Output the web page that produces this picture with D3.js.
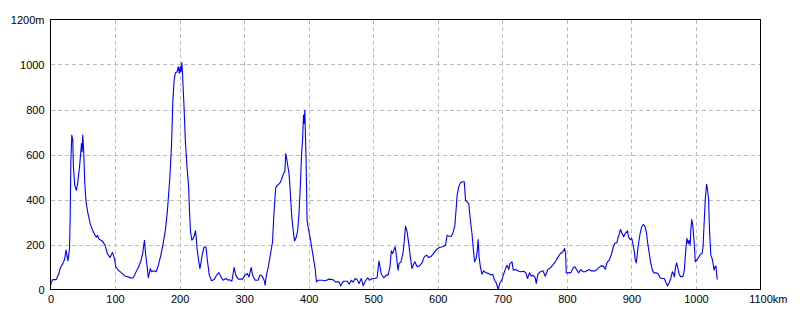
<!DOCTYPE html>
<html>
<head>
<meta charset="utf-8">
<script src="https://cdn.jsdelivr.net/npm/d3@7"></script>
<style>
  body { margin: 0; background: #fff; }
  text { font-family: "Liberation Sans Narrow", "Liberation Sans", Arial, sans-serif; font-size: 11px; fill: #000; }
</style>
</head>
<body>
<div class="box"></div>
<script>
// distance (km) and elevation (m) along the route
const distanceKm = [
  0, 1, 3.6, 9, 13, 15.5, 19, 21.8, 24, 27,
  29.5, 30.5, 31.5, 33, 34.5, 35.5, 37.5, 40, 42, 45,
  48, 49, 50, 51.5, 53, 55, 58, 61.5, 65, 69,
  71, 73, 75, 80, 84.5, 88, 92, 96, 99, 101,
  105, 110, 115.5, 121, 125, 128.5, 132, 136, 140, 143,
  145.5, 147.5, 149.5, 151.5, 154.5, 156.5, 159.5, 163.5, 166.5, 171,
  174.5, 178, 181, 185, 187.5, 189.5, 191.5, 193.5, 196, 198,
  199.5, 201, 202, 203.5, 204.5, 207, 209, 211.5, 214, 215.5,
  217, 219, 221, 223, 224.5, 225.5, 227, 229.5, 231.5, 233,
  235.5, 238, 241, 243, 246, 249.5, 253.5, 257.5, 261, 264,
  267.5, 271.5, 275.5,
  277, 281, 284.5, 287, 291, 297.5, 301.5, 305, 307.5, 311,
  313, 317, 321.5, 324.5, 328, 331, 332.5, 334.5, 337.5, 341,
  344, 345.5, 347, 349, 351.5, 355, 358, 361, 363, 364.5,
  366, 367, 369.5, 371, 372.5, 374, 376, 378, 381, 383,
  385, 387, 389, 390.5, 392, 393, 394, 396, 397.5, 399.5,
  402, 404.5, 407, 410, 412, 414.5, 421, 426, 431, 437.5,
  441.5, 447, 449.5, 452, 454.5, 459.5, 463, 466, 469, 472,
  475, 478, 481.5, 484.5, 488, 491.5, 494, 498.5, 502, 506,
  509, 510.5, 512.5, 516.5, 520, 523, 526, 528, 530, 532,
  534, 535.5, 537.5, 538.5, 540, 543, 546, 548,
  550, 552.5, 555, 557.5, 560, 562, 564.5, 568, 571.5, 575.5,
  579, 582.5, 586, 590, 594, 598, 602.5, 607.5, 612, 614.5,
  617, 621, 624, 626.5, 628.5, 630, 632.5, 635, 638, 641,
  643, 645.5, 648, 650.5, 653, 655, 657, 659.5, 661, 662.5,
  664, 666, 668.5, 671, 675, 679, 682, 685, 688, 690.5,
  693.5, 696, 699.5, 702, 705, 707.5, 710, 712, 715, 717,
  720.5, 725.5, 729, 733, 736.5, 739, 742, 745, 747.5, 751,
  752.5, 755, 759, 763, 766.5, 770.5, 774.5, 778, 782, 786.5,
  790, 793.5, 796.5, 798, 799, 803, 806.5, 809.5, 812.5, 815.5,
  818.5, 821.5, 824.5, 828.5,
  834, 837.5, 844, 848, 853, 856.5, 859.5, 862, 866, 869.5,
  872, 874.5, 877.5, 879.5, 881.5, 883, 885.5, 888, 890.5, 894,
  895.5, 898, 900.5, 902, 904.5, 906, 907.5, 909.5, 911, 913.5,
  916, 918.5, 921, 923.5, 925.5, 927.5, 930, 932.5, 935, 939,
  942, 944, 947, 951, 953, 956, 958.5, 961, 963.5, 965,
  966.5, 968.5, 970, 971.5, 974, 976.5, 980, 982, 984, 986,
  988, 989.5, 991, 992, 993.5, 995, 997, 999, 1002, 1004.5,
  1007, 1009.5, 1011, 1012.5, 1014.5, 1016.5, 1018, 1019.5, 1021, 1023,
  1025, 1026.5, 1028, 1029.5, 1031, 1032, 1033
];

const elevationM = [
  15, 30, 44, 44, 71, 98, 115, 133, 175, 127,
  182, 323, 567, 686, 664, 545, 464, 441, 471, 545,
  649, 612, 686, 612, 479, 390, 338, 293, 264, 241,
  233, 241, 224, 216, 197, 160, 142, 164, 138, 101,
  86, 74, 59, 56, 50, 53, 75, 98, 127, 163,
  219, 153, 108, 52, 93, 79, 83, 79, 101, 153,
  204, 264, 345, 501, 641, 834, 930, 963, 967, 990,
  960, 990, 967, 1009, 960, 804, 656, 545, 456, 338,
  256, 219, 227, 241, 261, 241, 182, 130, 93, 119,
  160, 190, 187, 130, 64, 39, 44, 64, 75, 56,
  41, 49, 41,
  44, 37, 98, 64, 46, 46, 64, 71, 56, 98,
  64, 41, 41, 64, 59, 41, 19, 64, 101, 160,
  212, 301, 375, 453, 464, 471, 489, 516, 523, 604,
  582, 560, 516, 456, 382, 316, 264, 216, 234, 264,
  338, 456, 604, 664, 775, 738, 797, 575, 308, 271,
  234, 190, 145, 93, 34, 41, 41, 39, 46, 44,
  34, 34, 16, 30, 37, 37, 24, 41, 33, 49,
  44, 27, 49, 16, 39, 52, 41, 49, 49, 52,
  127, 101, 68, 52, 64, 64, 101, 172, 160, 175,
  190, 160, 108, 86, 115, 123, 160, 212,
  281, 256, 204, 145, 93, 108, 123, 101, 105, 118,
  145, 153, 142, 148, 163, 178, 187, 190, 197, 241,
  237, 237, 256, 286, 360, 419, 456, 474, 479, 479,
  397, 390, 382, 308, 249, 182, 123, 138, 167, 222,
  145, 101, 68, 83, 74, 71, 64, 68, 41, 30,
  0, 27, 44, 68, 93, 108, 89, 116, 123, 86,
  89, 81, 79, 81, 74, 49, 74, 59, 64, 53,
  27, 67, 79, 83, 59, 89, 96, 108, 123, 145,
  160, 167, 182, 160, 74, 74, 76, 96, 101, 86,
  74, 89, 79, 79,
  89, 83, 83, 93, 105, 104, 90, 118, 133, 160,
  190, 207, 207, 234, 249, 267, 249, 234, 249, 261,
  234, 222, 227, 207, 167, 133, 118, 167, 204, 249,
  279, 289, 281, 249, 201, 163, 116, 86, 74, 74,
  68, 53, 49, 49, 34, 16, 30, 49, 79, 71,
  56, 101, 118, 101, 68, 56, 59, 86, 167, 227,
  204, 219, 197, 264, 311, 286, 219, 123, 133, 145,
  157, 160, 190, 286, 404, 468, 441, 404, 264, 153,
  138, 116, 86, 101, 104, 71, 44
];

const xTicks = [0, 100, 200, 300, 400, 500, 600, 700, 800, 900, 1000, 1100];
const yTicks = [0, 200, 400, 600, 800, 1000, 1200];

const svg = d3.select('.box')
              .append('svg')
              .attr('width', 800)
              .attr('height', 320)
              .style('background', '#fff');

// Dimensions
const margin = {top: 19.5, left: 50.5};
const graphWidth = 710;
const graphHeight = 270;

const x = d3.scaleLinear().domain([0, 1100]).range([margin.left, margin.left + graphWidth]);
const y = d3.scaleLinear().domain([0, 1200]).range([margin.top + graphHeight, margin.top]);

// grille
const grid = svg.append('g')
                .attr('stroke', '#bdbdbd')
                .attr('stroke-dasharray', '4,3')
                .attr('shape-rendering', 'crispEdges');

grid.selectAll('.vx')
    .data(xTicks.slice(1, -1))
    .enter().append('line')
    .attr('x1', d => Math.round(x(d)) + 0.5).attr('x2', d => Math.round(x(d)) + 0.5)
    .attr('y1', margin.top).attr('y2', margin.top + graphHeight);

grid.selectAll('.hy')
    .data(yTicks.slice(1, -1))
    .enter().append('line')
    .attr('y1', d => Math.round(y(d)) + 0.5).attr('y2', d => Math.round(y(d)) + 0.5)
    .attr('x1', margin.left).attr('x2', margin.left + graphWidth);

// profil
const line = d3.line()
               .x(d => x(d[0]))
               .y(d => y(d[1]));

svg.append('path')
   .datum(d3.zip(distanceKm, elevationM))
   .attr('d', line)
   .attr('fill', 'none')
   .attr('stroke', '#0000ff')
   .attr('stroke-width', 1.1)
   .attr('stroke-linejoin', 'round');

// cadre
svg.append('rect')
   .attr('x', margin.left).attr('y', margin.top)
   .attr('width', graphWidth).attr('height', graphHeight)
   .attr('fill', 'none')
   .attr('stroke', '#000')
   .attr('shape-rendering', 'crispEdges');

// axes
const axeY = d3.axisLeft(y)
               .tickValues(yTicks)
               .tickSize(0)
               .tickPadding(6)
               .tickFormat(d => d === 1200 ? '1200m' : d);

const axeX = d3.axisBottom(x)
               .tickValues(xTicks)
               .tickSize(0)
               .tickPadding(6)
               .tickFormat(d => d === 1100 ? '1100km' : d);

const groupeY = svg.append('g')
                   .attr('transform', `translate(${margin.left}, 0)`)
                   .call(axeY);
const groupeX = svg.append('g')
                   .attr('transform', `translate(0, ${margin.top + graphHeight})`)
                   .call(axeX);

[groupeX, groupeY].forEach(g => {
  g.select('.domain').remove();
  g.selectAll('text').attr('font-family', null).attr('font-size', null).attr('fill', '#000');
});

// "1100km": the number stays centred on its tick
groupeX.selectAll('.tick text')
       .filter(d => d === 1100)
       .each(function() {
         const t = d3.select(this);
         const tmp = groupeX.append('text').text('1100');
         const w = tmp.node().getComputedTextLength();
         tmp.remove();
         t.attr('text-anchor', 'start').attr('x', -w / 2);
       });
</script>
</body>
</html>
